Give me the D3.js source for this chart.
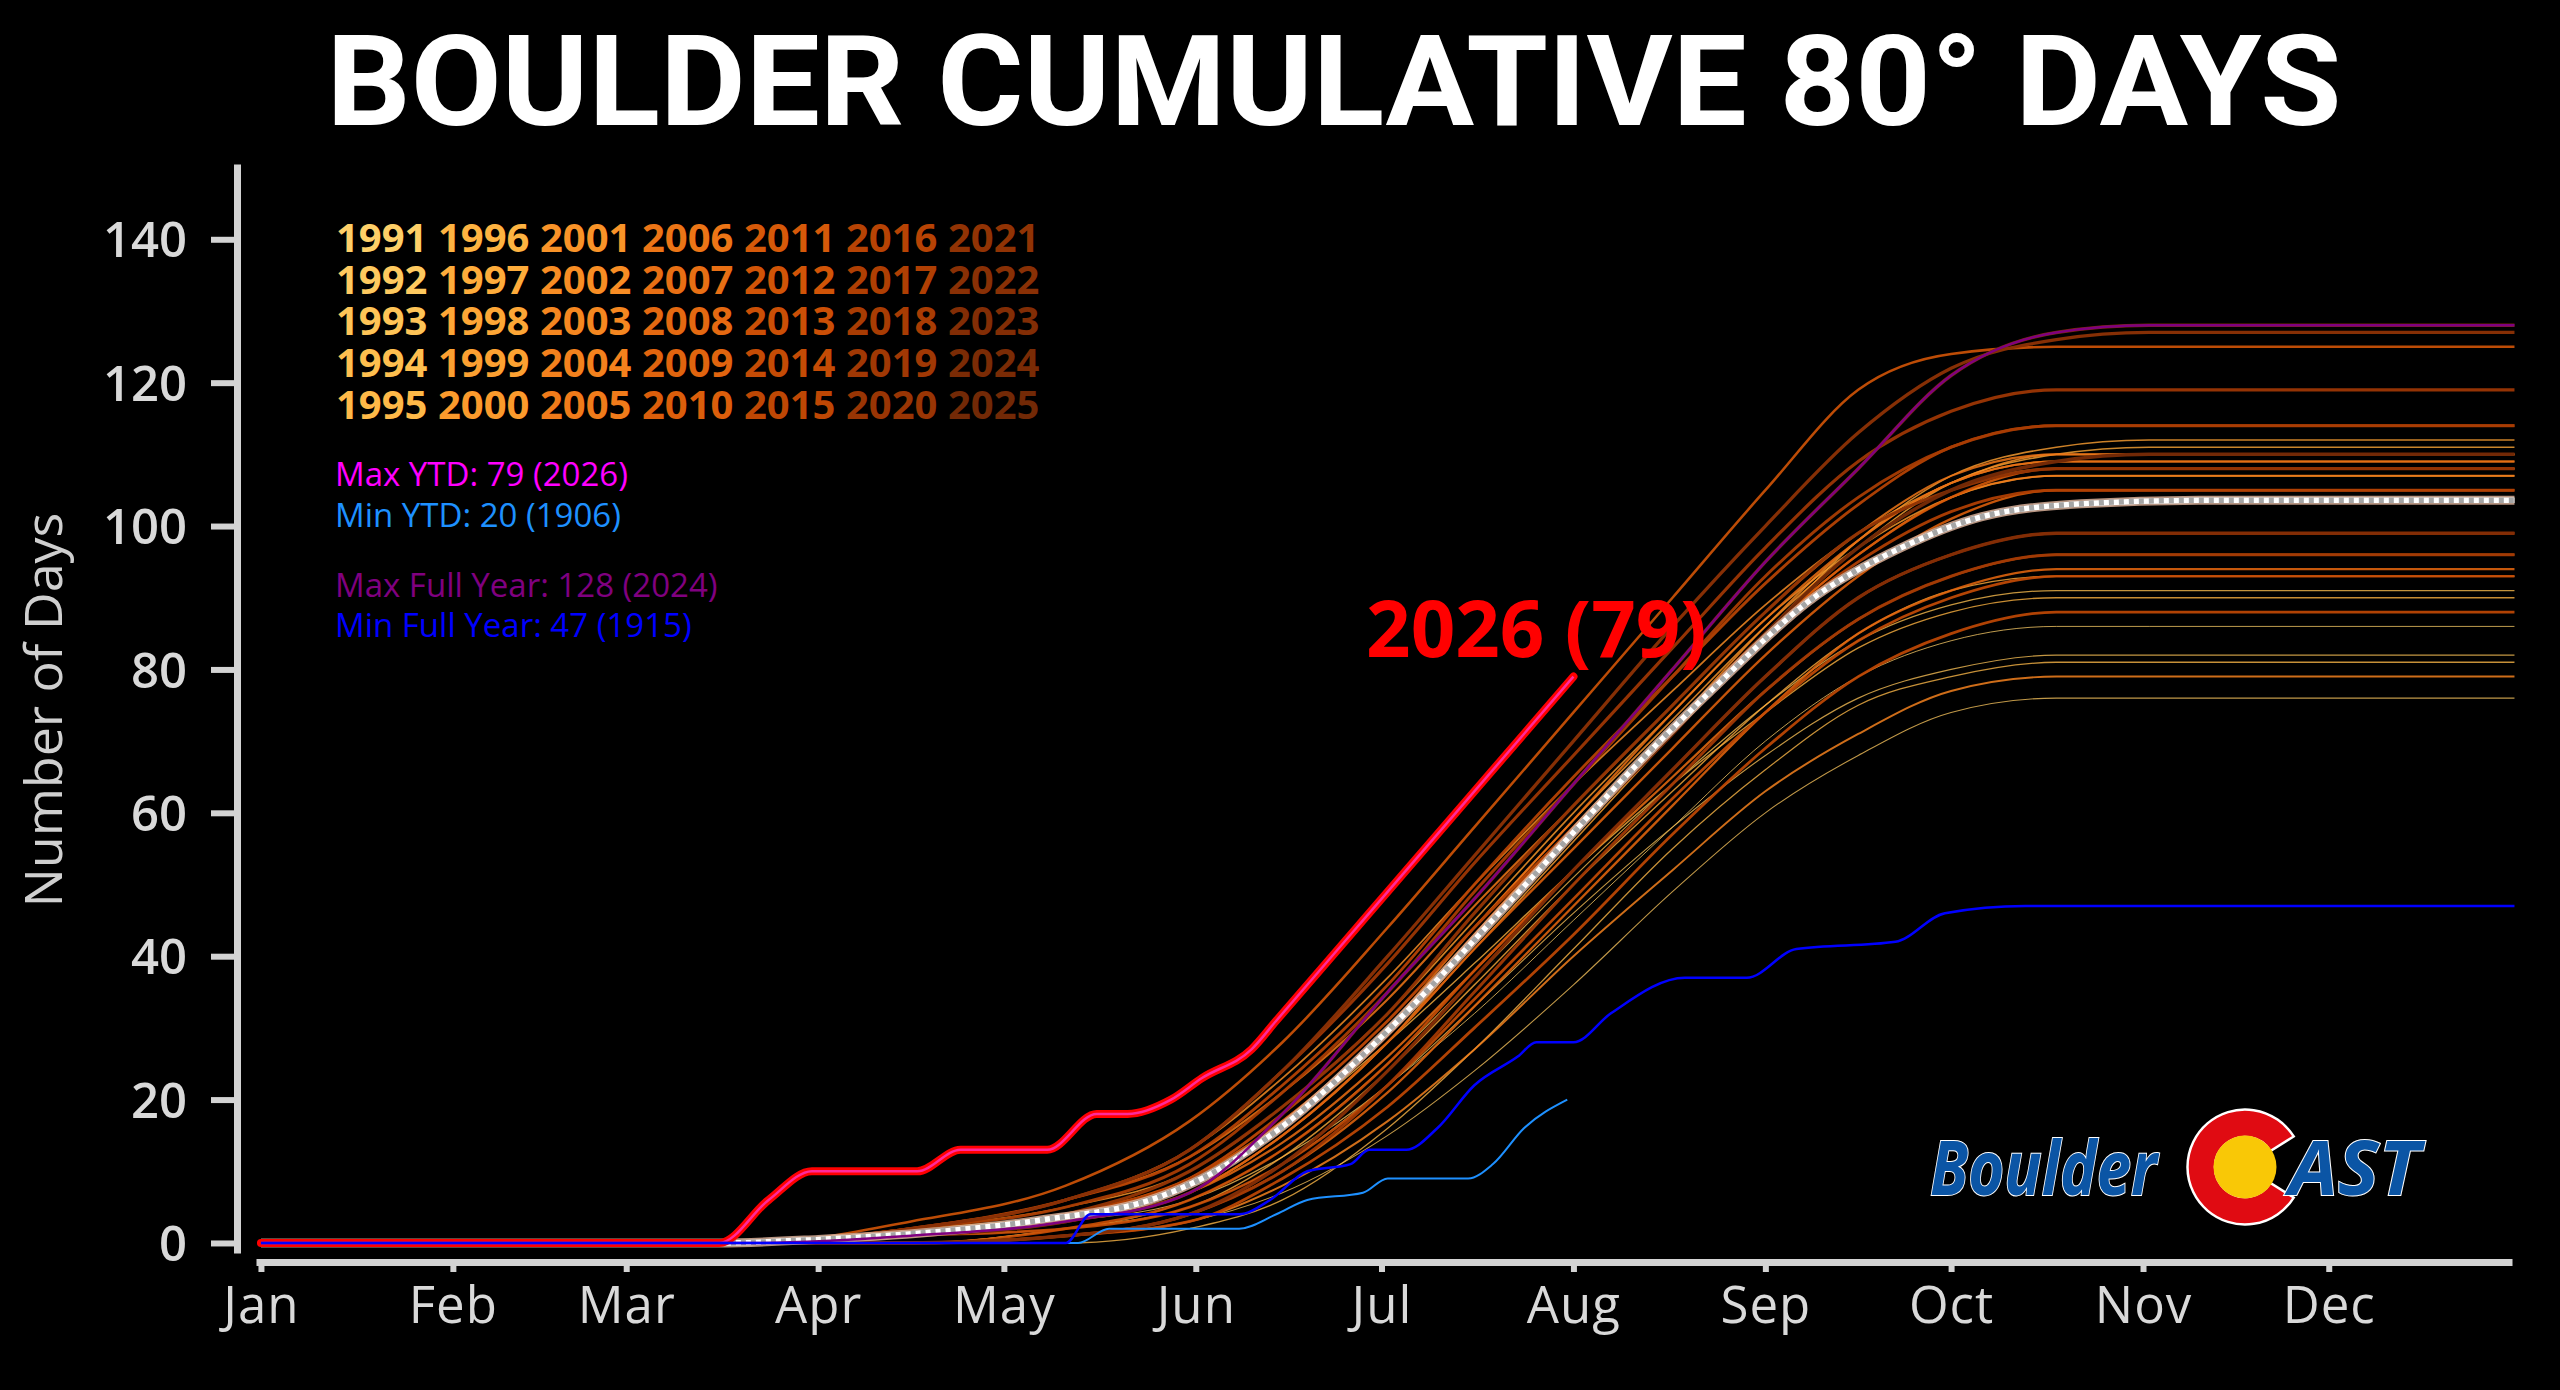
<!DOCTYPE html>
<html>
<head>
<meta charset="utf-8">
<script src="https://cdn.jsdelivr.net/npm/d3@7"></script>
<style>
  html, body { margin: 0; padding: 0; background: #000; }
  svg { display: block; }
</style>
</head>
<body>
<div id="chart"></div>
<script>
// month ticks (day of year, 0 = Jan 1)
const monthDays = [0, 31, 59, 90, 120, 151, 181, 212, 243, 273, 304, 334];
const monthLabels = ["Jan", "Feb", "Mar", "Apr", "May", "Jun", "Jul", "Aug", "Sep", "Oct", "Nov", "Dec"];
const yTicks = [0, 20, 40, 60, 80, 100, 120, 140];

// 1991-2025 cumulative 80 degree days, read at these days of year
const years = d3.range(1991, 2026);
const knotDays = [80, 105, 130, 150, 165, 182, 196, 212, 228, 243, 258, 273, 290, 305];
const yearCurves = [
  [0, 0, 2, 5, 11, 22, 32, 45, 58, 70, 79, 84, 86, 86],        // 1991
  [0, 0, 1, 3, 7, 15, 24, 36, 49, 60, 68, 74, 76, 76],         // 1992
  [0, 1, 3, 6, 12, 22, 33, 46, 58, 68, 76, 80, 82, 82],        // 1993
  [0, 1, 2, 6, 13, 25, 37, 51, 64, 75, 84, 89, 91, 91],        // 1994
  [0, 0, 0, 2, 6, 16, 27, 41, 55, 66, 75, 79, 81, 81],         // 1995
  [0, 1, 3, 8, 16, 28, 39, 52, 64, 74, 83, 88, 90, 90],        // 1996
  [0, 0, 2, 5, 12, 24, 36, 50, 63, 75, 85, 91, 93, 93],        // 1997
  [0, 2, 4, 9, 18, 31, 44, 58, 72, 85, 97, 106, 110, 111],     // 1998
  [0, 1, 3, 7, 15, 28, 41, 56, 71, 85, 98, 107, 111, 112],     // 1999
  [0, 2, 5, 10, 19, 32, 45, 60, 74, 87, 97, 104, 107, 107],    // 2000
  [0, 1, 4, 9, 18, 31, 44, 59, 73, 86, 97, 105, 108, 108],     // 2001
  [0, 2, 6, 13, 23, 37, 50, 64, 77, 89, 99, 106, 110, 110],    // 2002
  [0, 1, 3, 7, 15, 28, 42, 57, 72, 86, 98, 106, 109, 109],     // 2003
  [0, 0, 1, 3, 8, 17, 27, 40, 52, 63, 71, 77, 79, 79],         // 2004
  [0, 1, 3, 8, 16, 29, 43, 58, 72, 85, 96, 104, 107, 107],     // 2005
  [0, 2, 6, 12, 21, 34, 47, 61, 75, 88, 99, 107, 110, 110],    // 2006
  [0, 1, 3, 8, 17, 30, 44, 59, 74, 87, 98, 106, 109, 109],     // 2007
  [0, 1, 3, 7, 14, 26, 38, 52, 65, 77, 87, 93, 96, 96],        // 2008
  [0, 0, 1, 4, 10, 21, 33, 47, 61, 74, 85, 91, 94, 94],        // 2009
  [0, 1, 3, 7, 15, 28, 41, 55, 69, 82, 93, 101, 105, 105],     // 2010
  [0, 1, 4, 9, 17, 30, 43, 58, 72, 85, 96, 104, 108, 108],     // 2011
  [0, 3, 8, 17, 28, 44, 58, 74, 90, 105, 119, 124, 125, 125],  // 2012
  [0, 0, 2, 6, 13, 25, 38, 52, 66, 79, 90, 96, 99, 99],        // 2013
  [0, 1, 2, 5, 11, 22, 34, 48, 62, 74, 84, 90, 93, 93],        // 2014
  [0, 0, 1, 3, 9, 19, 30, 43, 57, 69, 79, 85, 88, 88],         // 2015
  [0, 2, 6, 12, 22, 36, 50, 65, 79, 92, 103, 111, 114, 114],   // 2016
  [0, 1, 4, 9, 18, 31, 44, 58, 72, 85, 95, 102, 105, 105],     // 2017
  [0, 2, 5, 11, 21, 35, 49, 64, 79, 93, 104, 111, 114, 114],   // 2018
  [0, 0, 1, 4, 10, 22, 35, 50, 64, 77, 87, 93, 96, 96],        // 2019
  [0, 2, 6, 13, 24, 39, 53, 68, 83, 97, 109, 116, 119, 119],   // 2020
  [0, 1, 4, 10, 19, 32, 46, 61, 75, 88, 99, 105, 108, 108],    // 2021
  [0, 2, 6, 13, 24, 40, 54, 70, 86, 100, 113, 122, 126, 127],  // 2022
  [0, 0, 1, 4, 11, 24, 37, 52, 66, 79, 90, 96, 99, 99],        // 2023
  [0, 1, 3, 7, 18, 35, 48, 64, 80, 95, 108, 121, 127, 128],    // 2024
  [0, 1, 3, 8, 16, 29, 42, 57, 71, 85, 97, 105, 109, 110]      // 2025
];
const maxFullYear = 2024;

// average of all years
const avgDays = [0, 74, 90, 108, 126, 145, 152, 164, 182, 200, 216, 222, 236, 250, 265, 278, 294, 313, 364];
const avgValues = [0, 0, 0.5, 1.5, 3.2, 6.4, 9, 15.6, 29.6, 46, 61, 66.5, 78.5, 89.5, 97, 101.3, 103.1, 103.6, 103.6];

// 2026 so far
const currentDays = [0, 74, 82, 89, 106, 113, 127, 135, 140, 147, 152, 160, 164, 171, 177, 190, 212];
const currentValues = [0, 0, 6, 10, 10, 13, 13, 18, 18, 20, 23, 27, 31, 38, 44, 57, 79];

// 1906 (min YTD)
const minYtdDays = [0, 132, 137, 158, 164, 169, 178, 182, 195, 199, 204, 211];
const minYtdValues = [0, 0, 2, 2, 4, 6, 7, 9, 9, 11, 16, 20];

// 1915 (min full year)
const minFullDays = [0, 130, 134, 158, 163, 169, 176, 179, 185, 190, 196, 203, 206, 212, 218, 230, 240, 248, 264, 272, 285, 364];
const minFullValues = [0, 0, 4, 4, 6, 10, 11, 13, 13, 16, 22, 26, 28, 28, 32, 37, 37, 41, 42, 46, 47, 47];

const statTexts = ["Max YTD: 79 (2026)", "Min YTD: 20 (1906)", "Max Full Year: 128 (2024)", "Min Full Year: 47 (1915)"];
const statColors = ["#ff00ff", "#1e90ff", "#800080", "#0000ff"];

const W = 2560, H = 1390;
const FONT = "'Open Sans', 'DejaVu Sans', sans-serif";
const axisGray = "#d3d3d3";

const svg = d3.select("#chart").append("svg")
  .attr("width", W)
  .attr("height", H)
  .style("background", "#000");

const x = d3.scaleLinear().domain([-0.8, 363.6]).range([256, 2512]);
const y = d3.scaleLinear().domain([-1.4, 150.5]).range([1253, 164]);

const line = d3.line()
  .x(d => x(d[0]))
  .y(d => y(d[1]))
  .curve(d3.curveMonotoneX);

const zip = (days, vals) => days.map((d, i) => [d, vals[i]]);
const n = years.length - 1;
const yearColor = i => d3.interpolateYlOrBr(0.33 + 0.64 * i / n);

// title
svg.append("text")
  .attr("x", 1334)
  .attr("y", 125)
  .attr("text-anchor", "middle")
  .attr("fill", "#fff")
  .attr("textLength", 2015)
  .attr("lengthAdjust", "spacingAndGlyphs")
  .style("font-family", "Roboto, 'Open Sans', sans-serif")
  .style("font-weight", 700)
  .style("font-size", "127px")
  .text("BOULDER CUMULATIVE 80\u00B0 DAYS");

// axes
const yAxis = svg.append("g")
  .attr("transform", "translate(237,0)")
  .call(d3.axisLeft(y).tickValues(yTicks).tickSize(26).tickSizeOuter(0).tickPadding(24));
yAxis.select(".domain").attr("stroke", axisGray).attr("stroke-width", 7);
yAxis.selectAll(".tick line").attr("stroke", axisGray).attr("stroke-width", 6);
yAxis.selectAll(".tick text")
  .attr("fill", "#d9d9d9")
  .attr("dy", "0.36em")
  .style("font-family", FONT)
  .style("font-weight", 600)
  .style("font-size", "49px");

const xAxis = svg.append("g")
  .attr("transform", "translate(0,1262)")
  .call(d3.axisBottom(x).tickValues(monthDays).tickFormat((d, i) => monthLabels[i]).tickSize(10).tickSizeOuter(0));
xAxis.select(".domain").attr("stroke", axisGray).attr("stroke-width", 7);
xAxis.selectAll(".tick line").attr("stroke", axisGray).attr("stroke-width", 6);
xAxis.selectAll(".tick text")
  .attr("fill", "#d9d9d9")
  .attr("y", 61)
  .attr("dy", 0)
  .style("font-family", FONT)
  .style("font-weight", 500)
  .style("font-size", "51px")
  .style("letter-spacing", "1px");

svg.append("text")
  .attr("transform", "translate(62,710) rotate(-90)")
  .attr("text-anchor", "middle")
  .attr("fill", "#cfcfcf")
  .style("font-family", FONT)
  .style("font-size", "52px")
  .text("Number of Days");

// year lines
const plot = svg.append("g");
plot.selectAll("path.year")
  .data(years)
  .join("path")
  .attr("class", "year")
  .attr("fill", "none")
  .attr("stroke", (d, i) => yearColor(i))
  .attr("stroke-width", (d, i) => 1 + 2.5 * i / n)
  .attr("stroke-opacity", (d, i) => 0.75 + 0.25 * i / n)
  .attr("d", (d, i) => {
    const vals = yearCurves[i];
    const pts = [[0, 0]].concat(zip(knotDays, vals), [[364, vals[vals.length - 1]]]);
    return line(pts);
  });

// average
const avgPts = zip(avgDays, avgValues);
plot.append("path").attr("d", line(avgPts)).attr("fill", "none")
  .attr("stroke", "#d6ae98").attr("stroke-width", 9).attr("stroke-opacity", 0.85);
plot.append("path").attr("d", line(avgPts)).attr("fill", "none")
  .attr("stroke", "#ffffff").attr("stroke-width", 5.5);
plot.append("path").attr("d", line(avgPts)).attr("fill", "none")
  .attr("stroke", "#a5a5a5").attr("stroke-width", 5.5).attr("stroke-dasharray", "5 5");

// current year
const curPts = zip(currentDays, currentValues);
plot.append("path").attr("d", line(curPts)).attr("fill", "none")
  .attr("stroke", "#ff0000").attr("stroke-width", 8).attr("stroke-linecap", "round");
plot.append("path").attr("d", line(curPts)).attr("fill", "none")
  .attr("stroke", "#ff2a9a").attr("stroke-width", 2.5);

// max full year
const maxIdx = years.indexOf(maxFullYear);
const maxVals = yearCurves[maxIdx];
plot.append("path")
  .attr("d", line([[0, 0]].concat(zip(knotDays, maxVals), [[364, maxVals[maxVals.length - 1]]])))
  .attr("fill", "none").attr("stroke", "#800080").attr("stroke-width", 2.5);

// min ytd and min full year
plot.append("path").attr("d", line(zip(minYtdDays, minYtdValues))).attr("fill", "none")
  .attr("stroke", "#1e90ff").attr("stroke-width", 2);
plot.append("path").attr("d", line(zip(minFullDays, minFullValues))).attr("fill", "none")
  .attr("stroke", "#0000ff").attr("stroke-width", 2.5);

// current label
const lastDay = currentDays[currentDays.length - 1];
const lastVal = currentValues[currentValues.length - 1];
svg.append("text")
  .attr("x", x(lastDay) - 37)
  .attr("y", y(lastVal) - 20)
  .attr("text-anchor", "middle")
  .attr("fill", "#ff0000")
  .style("font-family", FONT)
  .style("font-weight", 700)
  .style("font-size", "78px")
  .text(`${2026} (${lastVal})`);

// year legend
const legend = svg.append("g").attr("transform", "translate(336,252)");
legend.selectAll("text")
  .data(years)
  .join("text")
  .attr("x", (d, i) => Math.floor(i / 5) * 102)
  .attr("y", (d, i) => (i % 5) * 41.67)
  .attr("fill", (d, i) => yearColor(i))
  .style("font-family", FONT)
  .style("font-weight", 700)
  .style("font-size", "40px")
  .text(d => d);

// stats
const statY = [486, 527, 597, 637];
svg.selectAll("text.stat")
  .data(statTexts)
  .join("text")
  .attr("class", "stat")
  .attr("x", 335)
  .attr("y", (d, i) => statY[i])
  .attr("fill", (d, i) => statColors[i])
  .style("font-family", FONT)
  .style("font-size", "33px")
  .text(d => d);

// logo
const logo = svg.append("g");
const logoBlue = "#0b55a5";
logo.append("text")
  .attr("x", 1930).attr("y", 1195)
  .attr("textLength", 227).attr("lengthAdjust", "spacingAndGlyphs")
  .attr("fill", logoBlue).attr("stroke", "#fff").attr("stroke-width", 2)
  .style("paint-order", "stroke")
  .style("font-family", FONT).style("font-weight", 700).style("font-style", "italic")
  .style("font-size", "76px")
  .text("Boulder");
const cx = 2245, cy = 1167;
logo.append("path")
  .attr("transform", `translate(${cx},${cy})`)
  .attr("d", d3.arc()({ innerRadius: 30, outerRadius: 57.5, startAngle: Math.PI / 2 + 0.56, endAngle: Math.PI / 2 - 0.56 + 2 * Math.PI }))
  .attr("fill", "#e00b12").attr("stroke", "#fff").attr("stroke-width", 2.5);
logo.append("circle")
  .attr("cx", cx).attr("cy", cy).attr("r", 31.5)
  .attr("fill", "#f9c806");
logo.append("text")
  .attr("x", 2289).attr("y", 1195)
  .attr("textLength", 131).attr("lengthAdjust", "spacingAndGlyphs")
  .attr("fill", logoBlue).attr("stroke", "#fff").attr("stroke-width", 2)
  .style("paint-order", "stroke")
  .style("font-family", FONT).style("font-weight", 700).style("font-style", "italic")
  .style("font-size", "76px")
  .text("AST");
</script>
</body>
</html>
